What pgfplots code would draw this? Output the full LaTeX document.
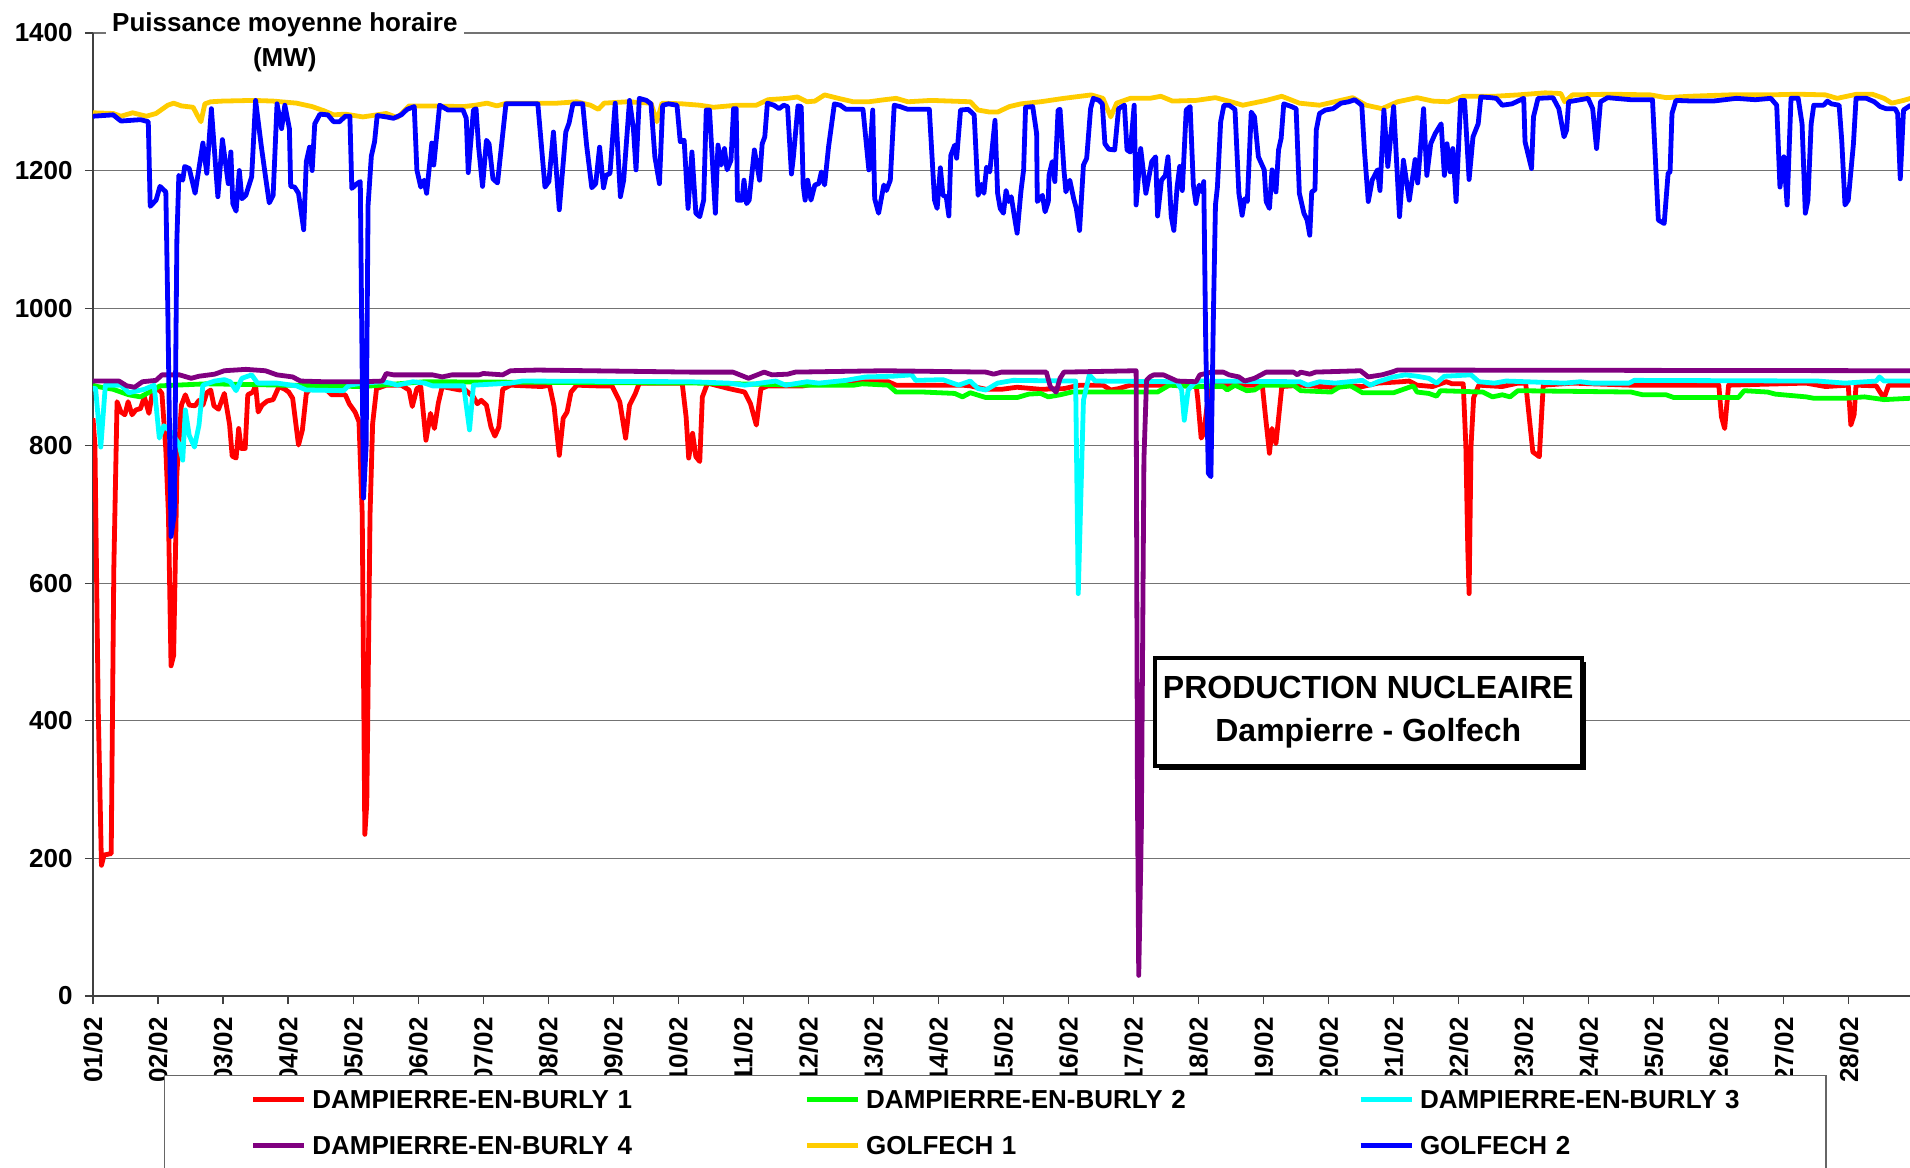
\documentclass[border=0pt]{standalone}
\usepackage{fontspec}
\setmainfont{Liberation Sans}
\usepackage{pgfplots}
\pgfplotsset{compat=1.18}
\usetikzlibrary{shadows}
\definecolor{cDBa}{RGB}{255,0,0}
\definecolor{cDBb}{RGB}{0,255,0}
\definecolor{cDBc}{RGB}{0,255,255}
\definecolor{cDBd}{RGB}{128,0,128}
\definecolor{cGa}{RGB}{255,204,0}
\definecolor{cGb}{RGB}{0,0,255}
\begin{document}
\begin{tikzpicture}
\begin{axis}[
 scale only axis, width=908.5pt, height=481.5pt,
 xmin=0, xmax=27.94, ymin=0, ymax=1400,
 axis x line=bottom, axis y line=left,
 axis line style={-, draw=black!75, line width=0.6pt},
 ytick={0,200,...,1400},
 xtick={0,...,27},
 xticklabels={01/02,02/02,03/02,04/02,05/02,06/02,07/02,08/02,09/02,10/02,11/02,12/02,13/02,14/02,15/02,16/02,17/02,18/02,19/02,20/02,21/02,22/02,23/02,24/02,25/02,26/02,27/02,28/02},
 tick align=outside, major tick length=4pt,
 tick style={draw=black!75, line width=0.6pt},
 ymajorgrids, grid style={draw=black!55, line width=0.6pt},
 /pgf/number format/assume math mode=true,
 /pgf/number format/1000 sep={},
 tick label style={font=\bfseries\fontsize{13}{15}\selectfont},
 xticklabel style={rotate=90, anchor=east, inner sep=0pt},
 yticklabel style={anchor=east, inner sep=0pt},
 xticklabel shift=6.5pt,
 yticklabel shift=6pt,
 every axis plot/.append style={line width=2.4pt, line join=round, mark=none},
 legend columns=3,
 legend cell align=left,
 legend style={at={(axis description cs:0.03908,-0.08204)}, anchor=north west, draw=black!60, line width=0.6pt, fill=white, inner xsep=0pt, inner ysep=7pt, font=\bfseries\fontsize{13}{15}\selectfont, row sep=13.5pt, column sep=0pt, nodes={inner xsep=3pt, inner ysep=0pt, text width=200pt, text height=9.5pt, text depth=0pt, align=left}},
 legend image code/.code={\path (-43pt,0pt); \draw[#1, line width=2.4pt] (0pt,0pt) -- (25.5pt,0pt);},
]
\addplot[cDBa] coordinates {(0,840)(0.03,800)(0.08,420)(0.13,190)(0.17,205)(0.28,207)(0.32,620)(0.37,864)(0.43,849)(0.49,845)(0.54,864)(0.6,845)(0.66,852)(0.73,854)(0.79,871)(0.86,847)(0.92,881)(1.02,881)(1.06,876)(1.12,794)(1.16,700)(1.2,480)(1.24,495)(1.29,760)(1.36,859)(1.42,874)(1.48,859)(1.57,858)(1.63,866)(1.69,859)(1.75,877)(1.81,881)(1.86,858)(1.93,853)(2.02,876)(2.1,831)(2.14,785)(2.2,782)(2.24,825)(2.28,796)(2.34,796)(2.38,874)(2.46,878)(2.5,888)(2.54,849)(2.6,859)(2.68,865)(2.77,867)(2.86,886)(2.95,882)(3.01,878)(3.07,869)(3.16,801)(3.22,823)(3.28,876)(3.37,886)(3.55,885)(3.67,874)(3.79,874)(3.88,874)(3.94,861)(4.03,849)(4.09,835)(4.14,700)(4.18,235)(4.21,280)(4.26,700)(4.3,832)(4.36,883)(4.51,888)(4.74,888)(4.86,881)(4.91,857)(4.98,883)(5.04,886)(5.12,808)(5.16,830)(5.19,847)(5.25,825)(5.31,862)(5.37,886)(5.64,881)(5.7,883)(5.85,871)(5.91,861)(5.97,866)(6.05,859)(6.12,827)(6.18,814)(6.24,827)(6.3,882)(6.42,888)(6.9,886)(7.02,888)(7.09,857)(7.17,786)(7.23,840)(7.29,849)(7.35,878)(7.44,888)(7.74,887)(7.98,887)(8.1,864)(8.19,811)(8.25,859)(8.34,876)(8.4,891)(8.64,891)(9.06,891)(9.12,842)(9.16,782)(9.22,818)(9.27,784)(9.33,777)(9.37,871)(9.45,891)(9.78,883)(10.02,878)(10.11,861)(10.2,830)(10.27,883)(10.38,887)(10.92,887)(11.1,890)(11.58,890)(11.75,893)(12.23,893)(12.35,888)(13.37,888)(13.49,887)(13.73,882)(13.97,882)(14.21,885)(14.57,882)(14.93,883)(15.17,888)(15.53,888)(15.65,881)(15.77,883)(15.95,888)(16.49,888)(16.96,891)(16.99,866)(17.04,811)(17.08,818)(17.17,888)(17.98,888)(18.03,842)(18.09,789)(18.13,825)(18.19,803)(18.28,886)(18.57,888)(19.04,885)(19.22,888)(19.52,886)(19.76,891)(20.12,893)(20.24,894)(20.36,888)(20.6,886)(20.81,893)(20.9,890)(21.07,890)(21.11,800)(21.14,650)(21.16,585)(21.19,800)(21.23,870)(21.31,888)(21.49,887)(21.67,886)(21.91,891)(22.03,891)(22.14,791)(22.24,784)(22.3,888)(22.75,891)(23.65,888)(25.0,888)(25.04,842)(25.09,825)(25.15,888)(26.34,891)(26.64,886)(26.99,888)(27.03,830)(27.08,845)(27.11,888)(27.42,887)(27.54,869)(27.61,888)(27.95,888)};
\addlegendentry{DAMPIERRE-EN-BURLY 1}
\addplot[cDBb] coordinates {(0,888)(0.07,886)(0.31,882)(0.55,874)(0.73,871)(0.85,877)(1.03,887)(1.75,890)(4.15,886)(5.1,893)(9.34,891)(10.98,888)(11.7,888)(11.83,890)(12.23,888)(12.35,878)(12.77,878)(13.25,876)(13.37,871)(13.49,877)(13.73,870)(14.21,870)(14.39,875)(14.57,876)(14.69,871)(14.87,874)(15.05,878)(16.37,878)(16.55,888)(16.9,886)(17.38,886)(17.44,881)(17.56,888)(17.74,880)(17.86,881)(17.98,888)(18.46,888)(18.57,880)(19.04,878)(19.16,885)(19.34,887)(19.52,877)(20.0,877)(20.18,883)(20.3,887)(20.36,878)(20.54,876)(20.66,872)(20.72,880)(21.37,878)(21.52,871)(21.67,874)(21.79,871)(21.91,880)(23.65,878)(23.83,874)(24.19,874)(24.31,870)(25.3,870)(25.39,880)(25.75,878)(25.87,875)(26.34,871)(26.46,869)(26.94,869)(27.24,871)(27.54,867)(27.95,869)};
\addlegendentry{DAMPIERRE-EN-BURLY 2}
\addplot[cDBc] coordinates {(0,883)(0.04,883)(0.12,798)(0.19,888)(0.43,888)(0.55,877)(0.79,882)(0.94,888)(1.02,811)(1.09,829)(1.2,820)(1.32,803)(1.38,779)(1.42,852)(1.48,815)(1.56,798)(1.63,830)(1.69,888)(1.87,894)(2.02,896)(2.11,893)(2.2,880)(2.29,898)(2.44,903)(2.53,891)(2.83,891)(3.13,887)(3.28,881)(3.85,880)(3.94,888)(4.15,891)(4.45,893)(4.57,891)(4.68,888)(4.92,893)(5.1,891)(5.22,887)(5.7,887)(5.79,823)(5.85,888)(6.42,891)(6.6,894)(9.18,893)(9.78,891)(10.02,888)(10.5,894)(10.65,888)(10.98,893)(11.16,891)(11.58,895)(11.88,900)(12.29,901)(12.59,903)(12.65,895)(13.07,896)(13.31,888)(13.49,894)(13.61,883)(13.73,881)(13.91,891)(14.15,895)(15.05,894)(15.11,894)(15.15,585)(15.23,866)(15.32,903)(15.41,894)(16.67,893)(16.74,881)(16.78,837)(16.84,881)(16.93,891)(17.02,894)(18.56,893)(18.68,888)(18.86,893)(19.1,891)(19.52,895)(19.64,888)(19.76,893)(20.0,900)(20.18,903)(20.36,901)(20.54,898)(20.66,891)(20.78,901)(21.19,903)(21.31,893)(21.55,891)(21.73,894)(22.63,891)(22.87,893)(23.05,891)(23.62,891)(23.7,895)(26.52,894)(26.94,891)(27.42,894)(27.47,900)(27.54,894)(27.95,894)};
\addlegendentry{DAMPIERRE-EN-BURLY 3}
\addplot[cDBd] coordinates {(0,894)(0.4,894)(0.52,887)(0.64,885)(0.76,893)(0.97,895)(1.06,903)(1.33,903)(1.51,898)(1.63,901)(1.87,904)(2.02,909)(2.35,911)(2.65,909)(2.83,903)(3.07,900)(3.19,894)(3.55,893)(4.15,893)(4.45,894)(4.51,905)(4.62,903)(5.22,903)(5.37,900)(5.52,903)(5.94,903)(6.0,905)(6.3,903)(6.42,909)(6.84,910)(9.18,907)(9.84,907)(10.08,898)(10.32,907)(10.44,903)(10.68,904)(10.8,907)(12.17,909)(13.73,907)(13.85,904)(13.97,907)(14.66,907)(14.72,886)(14.81,878)(14.87,898)(14.93,907)(16.04,909)(16.06,300)(16.08,30)(16.12,240)(16.16,780)(16.2,895)(16.25,900)(16.31,903)(16.46,903)(16.67,894)(16.96,893)(17.02,903)(17.2,907)(17.38,907)(17.47,903)(17.62,900)(17.71,894)(17.86,898)(18.04,907)(18.46,907)(18.52,903)(18.57,907)(18.71,904)(18.8,907)(19.49,909)(19.61,900)(19.82,903)(19.97,907)(20.06,910)(27.95,909)};
\addlegendentry{DAMPIERRE-EN-BURLY 4}
\addplot[cGa] coordinates {(0,1284)(0.31,1283)(0.43,1279)(0.61,1284)(0.82,1279)(0.97,1283)(1.15,1295)(1.24,1298)(1.36,1294)(1.54,1292)(1.6,1281)(1.66,1271)(1.72,1297)(1.81,1300)(1.99,1301)(2.47,1302)(2.77,1301)(3.13,1298)(3.37,1293)(3.55,1287)(3.7,1281)(3.88,1282)(4.15,1278)(4.51,1283)(4.68,1277)(4.86,1294)(5.16,1294)(5.7,1293)(5.88,1295)(6.06,1298)(6.21,1294)(6.36,1298)(6.84,1298)(7.14,1298)(7.44,1300)(7.65,1295)(7.77,1289)(7.86,1298)(8.22,1300)(8.58,1298)(8.67,1271)(8.75,1298)(9.06,1297)(9.33,1295)(9.54,1292)(9.9,1295)(10.2,1295)(10.38,1303)(10.68,1305)(10.83,1307)(10.98,1300)(11.1,1301)(11.25,1310)(11.46,1305)(11.69,1300)(11.93,1300)(12.17,1303)(12.35,1305)(12.53,1300)(12.89,1302)(13.49,1300)(13.61,1288)(13.79,1285)(13.91,1285)(14.09,1293)(14.27,1297)(14.57,1300)(14.93,1305)(15.35,1310)(15.53,1305)(15.65,1278)(15.74,1298)(15.95,1305)(16.25,1305)(16.42,1308)(16.6,1301)(16.96,1302)(17.26,1306)(17.5,1300)(17.68,1295)(18.04,1302)(18.28,1308)(18.55,1298)(18.86,1295)(19.37,1306)(19.58,1295)(19.82,1290)(20.06,1300)(20.36,1306)(20.6,1301)(20.84,1300)(21.07,1308)(21.55,1308)(21.91,1310)(22.33,1313)(22.57,1312)(22.63,1300)(22.75,1310)(23.35,1311)(23.95,1310)(24.19,1306)(24.55,1308)(25.15,1310)(25.75,1310)(26.22,1311)(26.64,1310)(26.82,1305)(27.12,1311)(27.36,1311)(27.54,1305)(27.66,1298)(27.84,1302)(27.95,1305)};
\addlegendentry{GOLFECH 1}
\addplot[cGb] coordinates {(0,1279)(0.31,1281)(0.43,1272)(0.73,1274)(0.85,1271)(0.88,1148)(0.97,1157)(1.03,1177)(1.12,1169)(1.15,1000)(1.2,668)(1.25,700)(1.29,1100)(1.32,1193)(1.38,1186)(1.41,1206)(1.48,1203)(1.57,1167)(1.69,1240)(1.75,1196)(1.82,1290)(1.92,1162)(1.99,1245)(2.08,1181)(2.12,1227)(2.15,1152)(2.2,1141)(2.25,1200)(2.29,1159)(2.35,1164)(2.44,1191)(2.5,1302)(2.59,1234)(2.65,1193)(2.71,1153)(2.77,1164)(2.83,1297)(2.9,1261)(2.95,1295)(3.02,1261)(3.04,1177)(3.1,1176)(3.16,1167)(3.24,1114)(3.28,1213)(3.33,1234)(3.37,1200)(3.41,1268)(3.49,1282)(3.61,1281)(3.7,1271)(3.79,1271)(3.88,1279)(3.95,1279)(3.98,1174)(4.06,1181)(4.11,1184)(4.14,900)(4.16,724)(4.2,800)(4.23,1150)(4.28,1221)(4.33,1242)(4.37,1280)(4.51,1278)(4.62,1276)(4.74,1281)(4.83,1289)(4.94,1293)(4.98,1201)(5.04,1176)(5.09,1186)(5.13,1167)(5.21,1240)(5.24,1208)(5.33,1295)(5.46,1288)(5.69,1288)(5.74,1276)(5.77,1197)(5.85,1288)(5.89,1290)(5.93,1234)(5.99,1177)(6.05,1244)(6.09,1239)(6.15,1188)(6.22,1182)(6.35,1297)(6.84,1297)(6.95,1176)(7.01,1184)(7.08,1256)(7.17,1143)(7.27,1256)(7.32,1269)(7.38,1297)(7.53,1297)(7.59,1237)(7.67,1175)(7.73,1181)(7.79,1234)(7.85,1175)(7.89,1193)(7.95,1196)(8.03,1298)(8.11,1162)(8.16,1186)(8.25,1302)(8.31,1261)(8.35,1201)(8.4,1305)(8.51,1302)(8.58,1297)(8.64,1220)(8.71,1181)(8.76,1295)(8.85,1297)(8.98,1295)(9.03,1242)(9.09,1244)(9.15,1145)(9.21,1227)(9.27,1138)(9.33,1133)(9.39,1157)(9.43,1288)(9.48,1288)(9.57,1138)(9.61,1237)(9.66,1208)(9.71,1232)(9.75,1201)(9.81,1215)(9.85,1290)(9.89,1290)(9.91,1157)(9.98,1157)(10.01,1186)(10.05,1152)(10.09,1157)(10.17,1230)(10.25,1186)(10.29,1239)(10.33,1249)(10.37,1298)(10.47,1295)(10.55,1290)(10.62,1295)(10.68,1293)(10.74,1195)(10.77,1220)(10.84,1294)(10.89,1293)(10.92,1179)(10.95,1157)(10.99,1186)(11.04,1157)(11.1,1179)(11.16,1181)(11.2,1198)(11.25,1179)(11.31,1234)(11.4,1297)(11.49,1295)(11.58,1289)(11.84,1289)(11.93,1201)(11.99,1288)(12.02,1159)(12.08,1138)(12.16,1179)(12.2,1171)(12.26,1186)(12.32,1295)(12.41,1293)(12.53,1289)(12.86,1289)(12.94,1157)(12.98,1145)(13.03,1204)(13.07,1164)(13.12,1162)(13.16,1134)(13.19,1222)(13.25,1237)(13.28,1218)(13.34,1288)(13.46,1289)(13.55,1281)(13.61,1164)(13.66,1180)(13.7,1167)(13.74,1205)(13.79,1198)(13.87,1273)(13.91,1167)(13.95,1145)(14.0,1138)(14.04,1171)(14.08,1155)(14.12,1162)(14.16,1138)(14.21,1109)(14.27,1171)(14.31,1201)(14.34,1292)(14.45,1293)(14.51,1254)(14.52,1155)(14.6,1164)(14.64,1140)(14.69,1155)(14.7,1193)(14.75,1213)(14.79,1184)(14.84,1288)(14.87,1289)(14.93,1201)(14.96,1169)(15.02,1186)(15.08,1159)(15.12,1145)(15.17,1113)(15.23,1208)(15.28,1218)(15.34,1290)(15.38,1305)(15.47,1302)(15.52,1297)(15.56,1239)(15.62,1231)(15.71,1230)(15.77,1290)(15.86,1295)(15.9,1230)(15.95,1227)(16.01,1295)(16.04,1150)(16.11,1232)(16.19,1167)(16.28,1213)(16.34,1220)(16.37,1134)(16.43,1186)(16.49,1193)(16.53,1220)(16.58,1133)(16.62,1113)(16.67,1176)(16.71,1206)(16.75,1171)(16.81,1288)(16.87,1293)(16.92,1179)(16.96,1152)(17.01,1179)(17.05,1169)(17.08,1184)(17.11,950)(17.15,760)(17.19,755)(17.23,1000)(17.26,1150)(17.29,1176)(17.34,1271)(17.39,1295)(17.47,1295)(17.56,1289)(17.62,1167)(17.67,1135)(17.71,1159)(17.75,1155)(17.81,1285)(17.86,1278)(17.92,1220)(18.01,1201)(18.04,1155)(18.09,1145)(18.13,1201)(18.19,1169)(18.23,1230)(18.27,1247)(18.31,1297)(18.43,1293)(18.5,1290)(18.55,1167)(18.62,1138)(18.67,1128)(18.71,1106)(18.74,1169)(18.79,1172)(18.81,1259)(18.86,1283)(18.95,1288)(19.07,1290)(19.19,1298)(19.31,1300)(19.4,1303)(19.51,1295)(19.55,1230)(19.61,1155)(19.67,1186)(19.75,1201)(19.79,1171)(19.85,1288)(19.91,1206)(20.0,1293)(20.09,1133)(20.15,1215)(20.24,1157)(20.33,1216)(20.37,1182)(20.46,1290)(20.51,1193)(20.57,1239)(20.64,1254)(20.73,1268)(20.78,1193)(20.82,1239)(20.87,1198)(20.91,1232)(20.96,1155)(21.03,1302)(21.09,1302)(21.16,1187)(21.22,1249)(21.3,1268)(21.34,1307)(21.49,1306)(21.58,1305)(21.67,1295)(21.82,1297)(21.91,1301)(22.0,1305)(22.02,1242)(22.12,1203)(22.15,1278)(22.22,1305)(22.45,1306)(22.54,1290)(22.62,1249)(22.66,1259)(22.69,1300)(22.99,1305)(23.06,1290)(23.12,1232)(23.18,1300)(23.29,1306)(23.65,1303)(23.98,1303)(24.07,1128)(24.16,1123)(24.22,1196)(24.25,1198)(24.28,1283)(24.34,1302)(24.61,1301)(24.91,1301)(25.27,1305)(25.56,1303)(25.8,1305)(25.89,1295)(25.94,1176)(26.0,1220)(26.05,1150)(26.11,1305)(26.22,1305)(26.28,1268)(26.33,1138)(26.37,1157)(26.42,1268)(26.46,1295)(26.61,1295)(26.67,1301)(26.73,1297)(26.85,1295)(26.89,1244)(26.94,1150)(26.99,1157)(27.07,1239)(27.11,1305)(27.27,1305)(27.39,1300)(27.48,1293)(27.57,1290)(27.71,1290)(27.75,1283)(27.79,1188)(27.84,1288)(27.95,1295)};
\addlegendentry{GOLFECH 2}
\addlegendimage{empty legend}
\addlegendentry{}
\coordinate (O) at (rel axis cs:0,0);
\coordinate (T) at (axis cs:2.95,1400);
\coordinate (B) at (axis cs:19.61,413);
\end{axis}
\node[fill=white, inner xsep=3.3pt, inner ysep=1pt, anchor=base, font=\bfseries\fontsize{13}{15}\selectfont] at ([yshift=0.5pt]T) {Puissance moyenne horaire};
\node[anchor=base, inner sep=0pt, font=\bfseries\fontsize{13}{15}\selectfont] at ([yshift=-16.6pt]T) {(MW)};
\node[draw=black, line width=2pt, fill=white, drop shadow={shadow xshift=2pt, shadow yshift=-2pt, fill=black, opacity=1}, minimum width=213.5pt, minimum height=54pt, align=center, font=\bfseries\fontsize{16}{21.3}\selectfont] at (B) {PRODUCTION NUCLEAIRE\\Dampierre - Golfech};
\pgfresetboundingbox
\path[use as bounding box] ([xshift=-46.5pt, yshift=-85.5pt]O) rectangle ([xshift=908.5pt, yshift=498pt]O);
\end{tikzpicture}
\end{document}
